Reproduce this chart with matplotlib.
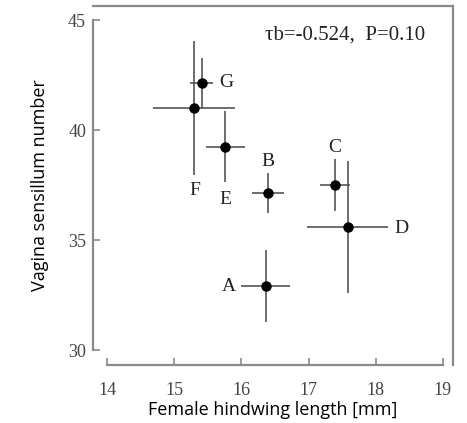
import matplotlib
matplotlib.use("Agg")
import matplotlib.pyplot as plt

# Population means and error ranges
labels = ["A", "B", "C", "D", "E", "F", "G"]
hindwing = [16.36, 16.39, 17.39, 17.58, 15.76, 15.30, 15.41]
hindwing_err = [0.36, 0.24, 0.22, 0.60, 0.29, 0.61, 0.17]
sensillum = [32.9, 37.15, 37.5, 35.6, 39.25, 41.0, 42.15]
sensillum_err = [1.63, 0.9, 1.17, 3.0, 1.6, 3.05, 1.13]

# label offsets in pixels (dx, dy)
label_offsets = {
    "A": (-37, 0), "B": (0, 31), "C": (0, 38), "D": (54, -2),
    "E": (0, -53), "F": (0, -82), "G": (25, 0),
}

fig = plt.figure(figsize=(4.67, 4.23), dpi=100)
ax = fig.add_axes([93 / 467, 1 - 365 / 423, 360 / 467, 359 / 423])

ax.errorbar(hindwing, sensillum, xerr=hindwing_err, yerr=sensillum_err,
            fmt="o", color="black", ecolor="#555555", elinewidth=1.2,
            markersize=6.5, capsize=0)

for lab, x, y in zip(labels, hindwing, sensillum):
    dx, dy = label_offsets[lab]
    ax.annotate(lab, (x, y), xytext=(dx * 0.72, dy * 0.72), textcoords="offset points",
                ha="center", va="center", fontsize=14, family="Liberation Serif",
                color="#222222")

ax.text(0.922, 0.919, "τb=-0.524,  P=0.10", transform=ax.transAxes, ha="right",
        va="center", fontsize=15, family="Liberation Serif", color="#222222")

ax.set_xlim(13.79, 19.15)
ax.set_ylim(29.32, 45.64)
ax.set_xticks([14, 15, 16, 17, 18, 19])
ax.set_yticks([30, 35, 40, 45])

for s in ax.spines.values():
    s.set_color("#8a8a8a")
    s.set_linewidth(1.6)
ax.spines["left"].set_bounds(30, 45)
ax.spines["bottom"].set_bounds(14, 19)

ax.tick_params(direction="in", length=5, width=1.2, color="#8a8a8a",
               labelsize=13, labelcolor="#444444")
ax.tick_params(axis="y", pad=5)
ax.tick_params(axis="x", pad=12)
for t in ax.get_xticklabels() + ax.get_yticklabels():
    t.set_family("Liberation Serif")

ax.set_xlabel("Female hindwing length [mm]", family="Open Sans", fontsize=13, labelpad=2)
ax.set_ylabel("Vagina sensillum number", family="Open Sans", fontsize=13, labelpad=14)

fig.savefig("out.png", dpi=100)
